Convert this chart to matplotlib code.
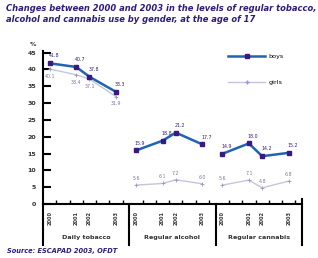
import matplotlib
matplotlib.use("Agg")
import matplotlib.pyplot as plt
from matplotlib.lines import Line2D

# ---------------------------------------------------
# Data
# ---------------------------------------------------

groups = ["Daily tobacco", "Regular alcohol", "Regular cannabis"]
years = ["2000", "2001", "2002", "2003"]
year_slots = [0, 2, 3, 5]          # slot of each survey year inside a group

boys = [
    [41.8, 40.7, 37.8, 33.3],
    [15.9, 18.8, 21.2, 17.7],
    [14.9, 18.0, 14.2, 15.2],
]
girls = [
    [40.1, 38.4, 37.1, 31.9],
    [5.6, 6.1, 7.2, 6.0],
    [5.6, 7.1, 4.8, 6.8],
]

yticks = [0, 5, 10, 15, 20, 25, 30, 35, 40, 45]

TITLE = ("Changes between 2000 and 2003 in the levels of regular tobacco,\n"
         "alcohol and cannabis use by gender, at the age of 17")
SOURCE = "Source: ESCAPAD 2003, OFDT"

# ---------------------------------------------------
# Style
# ---------------------------------------------------

NAVY = "#2e1c7c"
BOYS_LINE = "#1f64b0"
BOYS_MARK = "#3a1a80"
GIRLS_LINE = "#c4c4de"
GIRLS_MARK = "#9a98c0"
GROUP_W = 6.5

plt.rcParams["font.family"] = ["DejaVu Sans"]

fig = plt.figure(figsize=(3.18, 2.58), dpi=100)
ax = fig.add_axes([43 / 318, 1 - 204 / 258, 259 / 318, 153 / 258])

# ---------------------------------------------------
# Lines
# ---------------------------------------------------

for g in range(len(groups)):
    xs = [g * GROUP_W + 0.5 + s for s in year_slots]
    ax.plot(xs, girls[g], color=GIRLS_LINE, linewidth=1.0,
            marker="+", markersize=3, markeredgecolor=GIRLS_MARK,
            markeredgewidth=0.6, zorder=2)
    ax.plot(xs, boys[g], color=BOYS_LINE, linewidth=1.8,
            marker="s", markersize=3.2, markerfacecolor=BOYS_MARK,
            markeredgecolor=BOYS_MARK, zorder=3)
    for x, v in zip(xs, boys[g]):
        ax.annotate(f"{v:.1f}", (x, v), xytext=(3, 3.5),
                    textcoords="offset points", fontsize=3.4,
                    color=BOYS_MARK, ha="center", va="bottom")
    goff = -3.5 if g == 0 else 3
    for x, v in zip(xs, girls[g]):
        ax.annotate(f"{v:.1f}", (x, v), xytext=(0, goff),
                    textcoords="offset points", fontsize=3.4,
                    color="#7a78a8", ha="center",
                    va="top" if goff < 0 else "bottom")

# ---------------------------------------------------
# Axes
# ---------------------------------------------------

ax.set_xlim(0, GROUP_W * len(groups))
ax.set_ylim(0, 45.45)
ax.set_yticks(yticks)
ax.set_yticklabels([str(t) for t in yticks], fontsize=4.5,
                   fontweight="bold", color="#333333")
ax.tick_params(axis="y", direction="in", length=5.5, width=1.5, pad=5)

xt = [g * GROUP_W + 1 + i for g in range(len(groups)) for i in range(6)]
ax.set_xticks(xt)
ax.set_xticklabels([])
ax.tick_params(axis="x", direction="in", length=3, width=1.0)

for side in ["top", "right"]:
    ax.spines[side].set_visible(False)
ax.spines["left"].set_linewidth(1.5)
ax.spines["bottom"].set_linewidth(1.5)

# group separators and extended left spine
drop = -41 / 153
for g in range(len(groups) + 1):
    xg = g * GROUP_W
    top = 0.03 if g == len(groups) else 0
    ax.plot([xg, xg], [drop, top], color="black", linewidth=1.5,
            transform=ax.get_xaxis_transform(), clip_on=False)

# year labels and group names
for g, name in enumerate(groups):
    for s, yr in zip(year_slots, years):
        ax.text(g * GROUP_W + 0.5 + s, -7 / 153, yr, rotation=90,
                fontsize=3.6, fontweight="bold", color="#333333",
                ha="center", va="top", transform=ax.get_xaxis_transform())
    ax.text(g * GROUP_W + GROUP_W / 2, -33 / 153, name, fontsize=4.6,
            fontweight="bold", color="#333333", ha="center", va="center",
            transform=ax.get_xaxis_transform())

fig.text(33 / 318, 1 - 44 / 258, "%", fontsize=4.5, fontweight="bold",
         color="#333333", ha="center", va="center")

# ---------------------------------------------------
# Legend
# ---------------------------------------------------

handles = [
    Line2D([], [], color=BOYS_LINE, linewidth=1.8, marker="s",
           markersize=3.2, markerfacecolor=BOYS_MARK,
           markeredgecolor=BOYS_MARK),
    Line2D([], [], color=GIRLS_LINE, linewidth=1.0, marker="+",
           markersize=3, markeredgecolor=GIRLS_MARK),
]
fig.legend(handles, ["boys", "girls"], loc="upper left",
           bbox_to_anchor=(228 / 318, 1 - 54 / 258), frameon=False,
           fontsize=4.6, handlelength=5.8, labelspacing=3.2,
           handletextpad=0.5, borderpad=0, borderaxespad=0)

# ---------------------------------------------------
# Texts
# ---------------------------------------------------

fig.text(6 / 318, 1 - 4 / 258, TITLE, fontsize=6, fontweight="bold",
         fontstyle="italic", color=NAVY, ha="left", va="top",
         linespacing=1.3)
fig.text(7 / 318, 1 - 251 / 258, SOURCE, fontsize=4.8, fontweight="bold",
         fontstyle="italic", color=NAVY, ha="left", va="center")

fig.savefig("out.png", dpi=100)
